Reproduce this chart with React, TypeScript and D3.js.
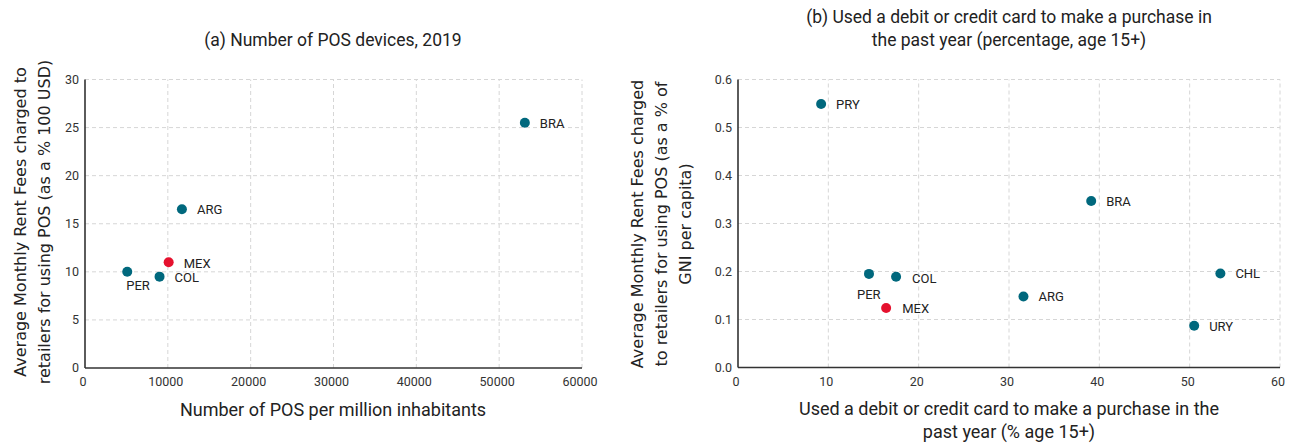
import * as d3 from "d3";
import { useEffect, useRef } from "react";

// panel (a)
const posCountries = ["BRA", "ARG", "MEX", "PER", "COL"];
const posPerMillion = [53100, 11700, 10100, 5100, 9000];
const posFeeUsd = [25.5, 16.5, 11, 10, 9.5];

// panel (b)
const cardCountries = ["PRY", "BRA", "CHL", "URY", "ARG", "PER", "COL", "MEX"];
const cardUsePct = [9.2, 39.1, 53.4, 50.5, 31.6, 14.5, 17.5, 16.4];
const cardFeeGni = [0.549, 0.347, 0.196, 0.087, 0.148, 0.195, 0.189, 0.124];

const xTicksA = [0, 10000, 20000, 30000, 40000, 50000, 60000];
const yTicksA = [0, 5, 10, 15, 20, 25, 30];
const xTicksB = [0, 10, 20, 30, 40, 50, 60];
const yTicksB = [0, 0.1, 0.2, 0.3, 0.4, 0.5, 0.6];

const teal = "#00687d";
const red = "#e5112e";
const font = "Roboto, 'Noto Sans', sans-serif";

export default function App() {
  const ref = useRef<SVGSVGElement>(null);

  useEffect(() => {
    const svg = d3.select(ref.current);
    svg.selectAll("*").remove();

    const drawPanel = (opts: any) => {
      const { x0, x1, y0, y1, xDomain, yDomain, xTicks, yTicks, yFmt, names, xs, ys, labelOffsets } = opts;
      const x = d3.scaleLinear().domain(xDomain).range([x0, x1]);
      const y = d3.scaleLinear().domain(yDomain).range([y0, y1]);
      const g = svg.append("g");

      // grid
      g.selectAll(".vgrid")
        .data(xTicks.slice(1))
        .join("line")
        .attr("x1", (d: number) => x(d)).attr("x2", (d: number) => x(d))
        .attr("y1", y0).attr("y2", y1)
        .attr("stroke", "#d6d6d6").attr("stroke-dasharray", "4,3");
      g.selectAll(".hgrid")
        .data(yTicks.slice(1))
        .join("line")
        .attr("x1", x0).attr("x2", x1)
        .attr("y1", (d: number) => y(d)).attr("y2", (d: number) => y(d))
        .attr("stroke", "#d6d6d6").attr("stroke-dasharray", "4,3");

      // axes
      g.append("line").attr("x1", x0).attr("x2", x1).attr("y1", y0).attr("y2", y0)
        .attr("stroke", "#333").attr("stroke-width", 1.6);
      g.append("line").attr("x1", x0).attr("x2", x0).attr("y1", y0).attr("y2", y1)
        .attr("stroke", "#333").attr("stroke-width", 1.6);

      g.selectAll(".xt")
        .data(xTicks)
        .join("text")
        .attr("x", (d: number) => x(d) - 2)
        .attr("y", y0 + 18)
        .attr("text-anchor", "middle")
        .attr("font-family", font).attr("font-size", 12.5).attr("fill", "#333")
        .text((d: number) => String(d));
      g.selectAll(".yt")
        .data(yTicks)
        .join("text")
        .attr("x", x0 - 6)
        .attr("y", (d: number) => y(d) + 4)
        .attr("text-anchor", "end")
        .attr("font-family", font).attr("font-size", 12.5).attr("fill", "#333")
        .text((d: number) => yFmt(d));

      // points
      g.selectAll(".pt")
        .data(names)
        .join("circle")
        .attr("cx", (_: string, i: number) => x(xs[i]))
        .attr("cy", (_: string, i: number) => y(ys[i]))
        .attr("r", 5)
        .attr("fill", (d: string) => (d === "MEX" ? red : teal));
      g.selectAll(".lb")
        .data(names)
        .join("text")
        .attr("x", (d: string, i: number) => x(xs[i]) + (labelOffsets[d] ? labelOffsets[d][0] : 15))
        .attr("y", (d: string, i: number) => y(ys[i]) + (labelOffsets[d] ? labelOffsets[d][1] : 5))
        .attr("font-family", font).attr("font-size", 13).attr("fill", "#222")
        .text((d: string) => d);
      return g;
    };

    drawPanel({
      x0: 85, x1: 582, y0: 368, y1: 79.5,
      xDomain: [0, 60000], yDomain: [0, 30],
      xTicks: xTicksA, yTicks: yTicksA, yFmt: (d: number) => String(d),
      names: posCountries, xs: posPerMillion, ys: posFeeUsd,
      labelOffsets: { PER: [-1, 18], COL: [15, 5], MEX: [15, 6] },
    });
    drawPanel({
      x0: 738, x1: 1280, y0: 367.5, y1: 79.5,
      xDomain: [0, 60], yDomain: [0, 0.6],
      xTicks: xTicksB, yTicks: yTicksB, yFmt: d3.format(".1f"),
      names: cardCountries, xs: cardUsePct, ys: cardFeeGni,
      labelOffsets: { PER: [-12, 25], COL: [16, 6], MEX: [16, 5] },
    });

    const text = (x: number, y: number, s: string, size: number, rotate = false, fam = font) => {
      const t = svg.append("text")
        .attr("x", x).attr("y", y)
        .attr("text-anchor", "middle")
        .attr("font-family", fam).attr("font-size", size).attr("fill", "#222")
        .text(s);
      if (rotate) t.attr("transform", `rotate(-90, ${x}, ${y})`);
    };

    // titles
    text(333, 46, "(a) Number of POS devices, 2019", 17.5);
    text(1009, 23, "(b) Used a debit or credit card to make a purchase in", 17.5);
    text(1009, 46, "the past year (percentage, age 15+)", 17.5);

    // x axis labels
    text(333, 416, "Number of POS per million inhabitants", 18);
    text(1009, 415, "Used a debit or credit card to make a purchase in the", 18);
    text(1009, 438, "past year (% age 15+)", 18);

    // y axis labels
    const yfam = "'DejaVu Sans', Verdana, sans-serif";
    text(26, 222, "Average Monthly Rent Fees charged to", 16, true, yfam);
    text(50, 222, "retailers for using POS (as a % 100 USD)", 16, true, yfam);
    text(643, 224, "Average Monthly Rent Fees charged", 16, true, yfam);
    text(667, 224, "to retailers for using POS (as a % of", 16, true, yfam);
    text(691, 224, "GNI per capita)", 16, true, yfam);
  }, []);

  return (
    <svg
      ref={ref}
      width={1295}
      height={444}
      style={{ position: "absolute", left: 0, top: 0, background: "#fff" }}
    />
  );
}
